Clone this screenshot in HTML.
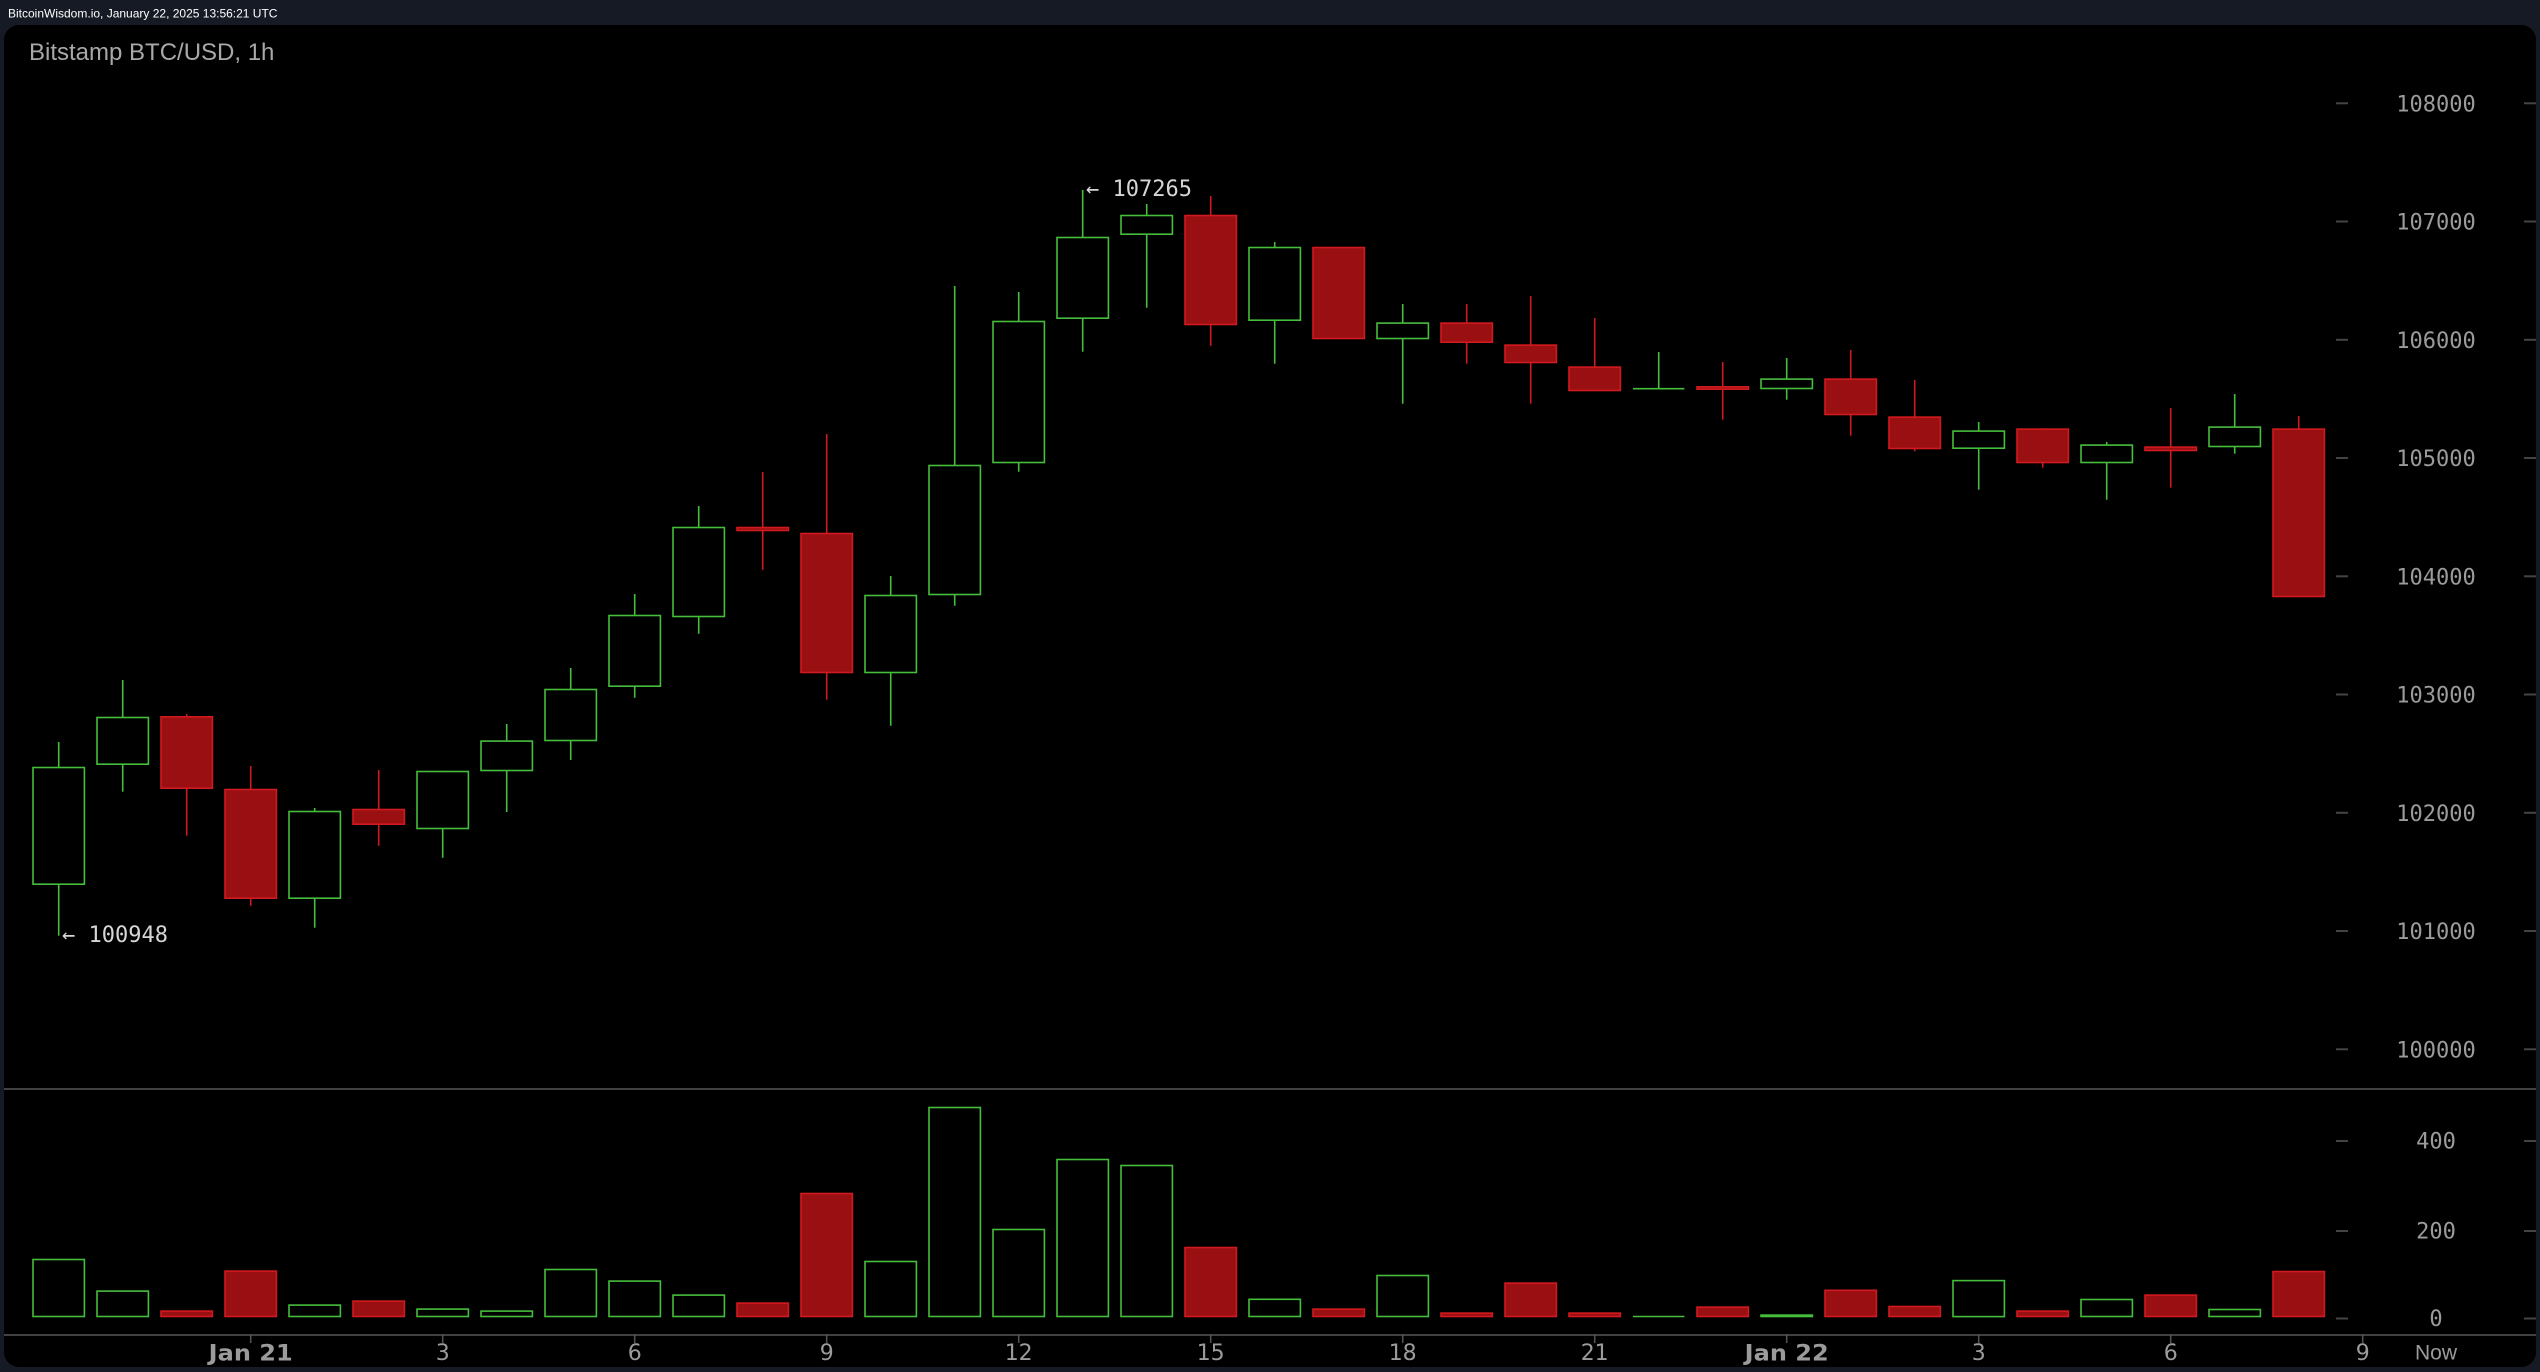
<!DOCTYPE html>
<html><head><meta charset="utf-8"><style>
html,body{margin:0;padding:0;background:#151a24;}
svg{display:block;}
</style></head><body>
<svg width="2540" height="1372" viewBox="0 0 2540 1372" xmlns="http://www.w3.org/2000/svg">
<rect x="0" y="0" width="2540" height="1372" fill="#151a24"/>
<text x="8" y="17.5" font-family="Liberation Sans, Arial, sans-serif" font-size="12" fill="#ffffff">BitcoinWisdom.io, January 22, 2025 13:56:21 UTC</text>
<rect x="4" y="25" width="2532" height="1342" rx="15" ry="15" fill="#000"/>
<text x="29" y="60" font-family="Liberation Sans, Arial, sans-serif" font-size="24" fill="#a8a8a8">Bitstamp BTC/USD, 1h</text>

<!-- separators -->
<line x1="4" y1="1089" x2="2536" y2="1089" stroke="#414141" stroke-width="2"/>
<line x1="4" y1="1335" x2="2536" y2="1335" stroke="#414141" stroke-width="2"/>

<!-- y axis ticks & labels -->
<g stroke="#444" stroke-width="2">
<line x1="2336" y1="103.3" x2="2348" y2="103.3"/><line x1="2524" y1="103.3" x2="2536" y2="103.3"/>
<line x1="2336" y1="221.5" x2="2348" y2="221.5"/><line x1="2524" y1="221.5" x2="2536" y2="221.5"/>
<line x1="2336" y1="339.8" x2="2348" y2="339.8"/><line x1="2524" y1="339.8" x2="2536" y2="339.8"/>
<line x1="2336" y1="458" x2="2348" y2="458"/><line x1="2524" y1="458" x2="2536" y2="458"/>
<line x1="2336" y1="576.3" x2="2348" y2="576.3"/><line x1="2524" y1="576.3" x2="2536" y2="576.3"/>
<line x1="2336" y1="694.5" x2="2348" y2="694.5"/><line x1="2524" y1="694.5" x2="2536" y2="694.5"/>
<line x1="2336" y1="812.8" x2="2348" y2="812.8"/><line x1="2524" y1="812.8" x2="2536" y2="812.8"/>
<line x1="2336" y1="931" x2="2348" y2="931"/><line x1="2524" y1="931" x2="2536" y2="931"/>
<line x1="2336" y1="1049.3" x2="2348" y2="1049.3"/><line x1="2524" y1="1049.3" x2="2536" y2="1049.3"/>
<line x1="2336" y1="1141" x2="2348" y2="1141"/><line x1="2524" y1="1141" x2="2536" y2="1141"/>
<line x1="2336" y1="1231" x2="2348" y2="1231"/><line x1="2524" y1="1231" x2="2536" y2="1231"/>
<line x1="2336" y1="1318.5" x2="2348" y2="1318.5"/><line x1="2524" y1="1318.5" x2="2536" y2="1318.5"/>
</g>
<g font-family="DejaVu Sans Mono, Liberation Mono, monospace" font-size="22" fill="#9b9b9b" text-anchor="middle">
<text x="2436" y="111.3">108000</text>
<text x="2436" y="229.5">107000</text>
<text x="2436" y="347.8">106000</text>
<text x="2436" y="466">105000</text>
<text x="2436" y="584.3">104000</text>
<text x="2436" y="702.5">103000</text>
<text x="2436" y="820.8">102000</text>
<text x="2436" y="939">101000</text>
<text x="2436" y="1057.3">100000</text>
<text x="2436" y="1148.5">400</text>
<text x="2436" y="1238.5">200</text>
<text x="2436" y="1326">0</text>
</g>

<!-- x axis ticks -->
<g stroke="#555" stroke-width="1.5">
<line x1="250.7" y1="1335" x2="250.7" y2="1343"/>
<line x1="442.7" y1="1335" x2="442.7" y2="1343"/>
<line x1="634.7" y1="1335" x2="634.7" y2="1343"/>
<line x1="826.7" y1="1335" x2="826.7" y2="1343"/>
<line x1="1018.7" y1="1335" x2="1018.7" y2="1343"/>
<line x1="1210.7" y1="1335" x2="1210.7" y2="1343"/>
<line x1="1402.7" y1="1335" x2="1402.7" y2="1343"/>
<line x1="1594.7" y1="1335" x2="1594.7" y2="1343"/>
<line x1="1786.7" y1="1335" x2="1786.7" y2="1343"/>
<line x1="1978.7" y1="1335" x2="1978.7" y2="1343"/>
<line x1="2170.7" y1="1335" x2="2170.7" y2="1343"/>
<line x1="2362.7" y1="1335" x2="2362.7" y2="1343"/>
</g>
<g font-family="DejaVu Sans, Liberation Sans, sans-serif" font-size="22" fill="#9b9b9b" text-anchor="middle">
<text x="250.7" y="1360.5" font-weight="bold" textLength="84" lengthAdjust="spacingAndGlyphs">Jan 21</text>
<text x="442.7" y="1360">3</text>
<text x="634.7" y="1360">6</text>
<text x="826.7" y="1360">9</text>
<text x="1018.7" y="1360">12</text>
<text x="1210.7" y="1360">15</text>
<text x="1402.7" y="1360">18</text>
<text x="1594.7" y="1360">21</text>
<text x="1786.7" y="1360.5" font-weight="bold" textLength="84" lengthAdjust="spacingAndGlyphs">Jan 22</text>
<text x="1978.7" y="1360">3</text>
<text x="2170.7" y="1360">6</text>
<text x="2362.7" y="1360">9</text>
<text x="2436" y="1359.5" font-family="Liberation Sans, Arial, sans-serif" font-size="21">Now</text>
</g>

<!-- candles -->
<g stroke-width="1.6">
<g stroke="#46be3c" fill="#000">
<g transform="translate(58.7,0)"><line x1="0" y1="742" x2="0" y2="935.7"/><rect x="-25.7" y="767.5" width="51.4" height="116.7"/></g>
<g transform="translate(122.7,0)"><line x1="0" y1="680" x2="0" y2="791.7"/><rect x="-25.7" y="717.5" width="51.4" height="46.7"/></g>
<g transform="translate(314.7,0)"><line x1="0" y1="808" x2="0" y2="927.7"/><rect x="-25.7" y="811.5" width="51.4" height="86.7"/></g>
<g transform="translate(442.7,0)"><line x1="0" y1="770.7" x2="0" y2="857.7"/><rect x="-25.7" y="771.5" width="51.4" height="57"/></g>
<g transform="translate(506.7,0)"><line x1="0" y1="724" x2="0" y2="812"/><rect x="-25.7" y="741.1" width="51.4" height="29.4"/></g>
<g transform="translate(570.7,0)"><line x1="0" y1="668" x2="0" y2="760"/><rect x="-25.7" y="689.5" width="51.4" height="51"/></g>
<g transform="translate(634.7,0)"><line x1="0" y1="594" x2="0" y2="697.7"/><rect x="-25.7" y="615.5" width="51.4" height="70.7"/></g>
<g transform="translate(698.7,0)"><line x1="0" y1="506" x2="0" y2="633.7"/><rect x="-25.7" y="527.5" width="51.4" height="89"/></g>
<g transform="translate(890.7,0)"><line x1="0" y1="576" x2="0" y2="725.7"/><rect x="-25.7" y="595.5" width="51.4" height="77"/></g>
<g transform="translate(954.7,0)"><line x1="0" y1="286" x2="0" y2="605.7"/><rect x="-25.7" y="465.5" width="51.4" height="129"/></g>
<g transform="translate(1018.7,0)"><line x1="0" y1="292" x2="0" y2="471.7"/><rect x="-25.7" y="321.5" width="51.4" height="141"/></g>
<g transform="translate(1082.7,0)"><line x1="0" y1="190" x2="0" y2="351.7"/><rect x="-25.7" y="237.5" width="51.4" height="80.7"/></g>
<g transform="translate(1146.7,0)"><line x1="0" y1="204" x2="0" y2="307.7"/><rect x="-25.7" y="215.5" width="51.4" height="18.7"/></g>
<g transform="translate(1274.7,0)"><line x1="0" y1="242" x2="0" y2="363.7"/><rect x="-25.7" y="247.5" width="51.4" height="72.7"/></g>
<g transform="translate(1402.7,0)"><line x1="0" y1="304" x2="0" y2="403.7"/><rect x="-25.7" y="323.1" width="51.4" height="15.4"/></g>
<g transform="translate(1658.7,0)"><line x1="0" y1="352" x2="0" y2="388.7"/><line x1="-25.7" y1="388.7" x2="25.7" y2="388.7"/></g>
<g transform="translate(1786.7,0)"><line x1="0" y1="358" x2="0" y2="399.7"/><rect x="-25.7" y="379.1" width="51.4" height="9.4"/></g>
<g transform="translate(1978.7,0)"><line x1="0" y1="422" x2="0" y2="489.7"/><rect x="-25.7" y="431.1" width="51.4" height="17.1"/></g>
<g transform="translate(2106.7,0)"><line x1="0" y1="442" x2="0" y2="499.7"/><rect x="-25.7" y="445.1" width="51.4" height="17.4"/></g>
<g transform="translate(2234.7,0)"><line x1="0" y1="394" x2="0" y2="453.7"/><rect x="-25.7" y="427.1" width="51.4" height="19.4"/></g>
</g>
<g stroke="#d01a1f" fill="#9a0f12">
<g transform="translate(186.7,0)"><line x1="0" y1="714" x2="0" y2="835.7"/><rect x="-25.7" y="716.8" width="51.4" height="71.4"/></g>
<g transform="translate(250.7,0)"><line x1="0" y1="766" x2="0" y2="905.7"/><rect x="-25.7" y="789.5" width="51.4" height="108.7"/></g>
<g transform="translate(378.7,0)"><line x1="0" y1="770" x2="0" y2="845.7"/><rect x="-25.7" y="809.5" width="51.4" height="14.7"/></g>
<g transform="translate(762.7,0)"><line x1="0" y1="472" x2="0" y2="569.7"/><rect x="-25.7" y="527.5" width="51.4" height="3"/></g>
<g transform="translate(826.7,0)"><line x1="0" y1="434" x2="0" y2="699.7"/><rect x="-25.7" y="533.5" width="51.4" height="139"/></g>
<g transform="translate(1210.7,0)"><line x1="0" y1="196" x2="0" y2="345.7"/><rect x="-25.7" y="215.5" width="51.4" height="109"/></g>
<g transform="translate(1338.7,0)"><rect x="-25.7" y="247.5" width="51.4" height="91"/></g>
<g transform="translate(1466.7,0)"><line x1="0" y1="304" x2="0" y2="363.7"/><rect x="-25.7" y="323.1" width="51.4" height="19.1"/></g>
<g transform="translate(1530.7,0)"><line x1="0" y1="296" x2="0" y2="403.7"/><rect x="-25.7" y="345.1" width="51.4" height="17.4"/></g>
<g transform="translate(1594.7,0)"><line x1="0" y1="318" x2="0" y2="367"/><rect x="-25.7" y="367.1" width="51.4" height="23.4"/></g>
<g transform="translate(1722.7,0)"><line x1="0" y1="362" x2="0" y2="419.7"/><rect x="-25.7" y="386.8" width="51.4" height="2.4"/></g>
<g transform="translate(1850.7,0)"><line x1="0" y1="350" x2="0" y2="435.7"/><rect x="-25.7" y="379.1" width="51.4" height="35.4"/></g>
<g transform="translate(1914.7,0)"><line x1="0" y1="380" x2="0" y2="451.3"/><rect x="-25.7" y="417.1" width="51.4" height="31.4"/></g>
<g transform="translate(2042.7,0)"><line x1="0" y1="428.3" x2="0" y2="467.7"/><rect x="-25.7" y="429.1" width="51.4" height="33.4"/></g>
<g transform="translate(2170.7,0)"><line x1="0" y1="408" x2="0" y2="487.7"/><rect x="-25.7" y="447.1" width="51.4" height="3.4"/></g>
<g transform="translate(2298.7,0)"><line x1="0" y1="416" x2="0" y2="430"/><rect x="-25.7" y="429.1" width="51.4" height="167.4"/></g>
</g>
</g>

<!-- volume -->
<g stroke-width="1.6">
<g stroke="#46be3c" fill="none">
<rect x="33" y="1259.5" width="51.4" height="57"/>
<rect x="97" y="1291.1" width="51.4" height="25.4"/>
<rect x="289" y="1305.1" width="51.4" height="11.4"/>
<rect x="417" y="1309.1" width="51.4" height="7.4"/>
<rect x="481" y="1311.1" width="51.4" height="5.4"/>
<rect x="545" y="1269.5" width="51.4" height="47"/>
<rect x="609" y="1281.1" width="51.4" height="35.4"/>
<rect x="673" y="1295.1" width="51.4" height="21.4"/>
<rect x="865" y="1261.5" width="51.4" height="55"/>
<rect x="929" y="1107.5" width="51.4" height="209"/>
<rect x="993" y="1229.5" width="51.4" height="87"/>
<rect x="1057" y="1159.5" width="51.4" height="157"/>
<rect x="1121" y="1165.5" width="51.4" height="151"/>
<rect x="1249" y="1299.3" width="51.4" height="17.2"/>
<rect x="1377" y="1275.5" width="51.4" height="41"/>
<line x1="1633" y1="1316.5" x2="1684.4" y2="1316.5"/>
<rect x="1761" y="1315.1" width="51.4" height="1.4"/>
<rect x="1953" y="1280.6" width="51.4" height="36"/>
<rect x="2081" y="1299.5" width="51.4" height="17"/>
<rect x="2209" y="1309.5" width="51.4" height="7"/>
</g>
<g stroke="#d01a1f" fill="#9a0f12">
<rect x="161" y="1311.1" width="51.4" height="5.4"/>
<rect x="225" y="1271.1" width="51.4" height="45.4"/>
<rect x="353" y="1301.1" width="51.4" height="15.4"/>
<rect x="737" y="1303.1" width="51.4" height="13.4"/>
<rect x="801" y="1193.5" width="51.4" height="123"/>
<rect x="1185" y="1247.5" width="51.4" height="69"/>
<rect x="1313" y="1309.1" width="51.4" height="7.4"/>
<rect x="1441" y="1313.1" width="51.4" height="3.4"/>
<rect x="1505" y="1283.1" width="51.4" height="33.4"/>
<rect x="1569" y="1313.1" width="51.4" height="3.4"/>
<rect x="1697" y="1307.1" width="51.4" height="9.4"/>
<rect x="1825" y="1290.3" width="51.4" height="26.2"/>
<rect x="1889" y="1306.5" width="51.4" height="10"/>
<rect x="2017" y="1311.1" width="51.4" height="5.4"/>
<rect x="2145" y="1295.1" width="51.4" height="21.4"/>
<rect x="2273" y="1271.5" width="51.4" height="45"/>
</g>
</g>

<!-- annotations -->
<g font-family="DejaVu Sans Mono, Liberation Mono, monospace" font-size="22" fill="#d6d6d6">
<text x="62" y="942">← 100948</text>
<text x="1086" y="196">← 107265</text>
</g>
</svg>
</body></html>
